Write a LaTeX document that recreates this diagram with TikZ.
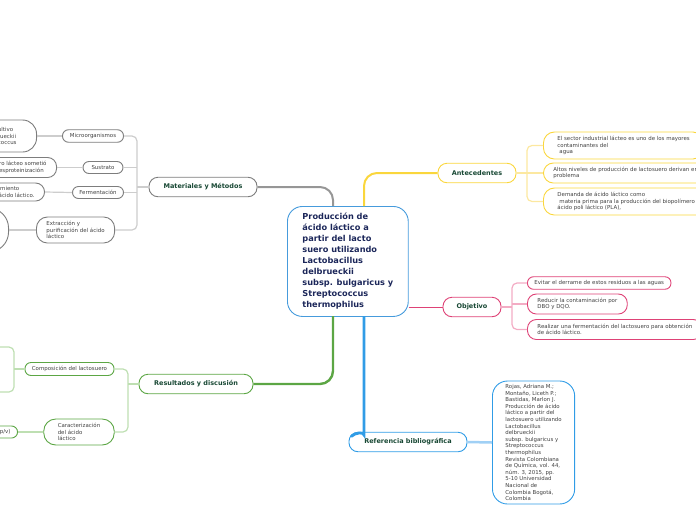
\documentclass[tikz,border=0pt]{standalone}
\usepackage{fontspec}
\setmainfont{DejaVu Sans}
\usetikzlibrary{positioning}
\definecolor{navy}{RGB}{27,38,89}
\definecolor{topicgreen}{RGB}{24,72,52}
\definecolor{leaftext}{RGB}{64,64,64}
\definecolor{centerblue}{RGB}{70,155,220}
\definecolor{matgray}{RGB}{125,125,125}
\definecolor{matline}{RGB}{205,205,205}
\definecolor{matmain}{RGB}{150,150,150}
\definecolor{anteyel}{RGB}{250,214,60}
\definecolor{anteline}{RGB}{252,232,160}
\definecolor{objpink}{RGB}{222,66,118}
\definecolor{objline}{RGB}{243,172,196}
\definecolor{resgreen}{RGB}{92,166,68}
\definecolor{resline}{RGB}{190,223,178}
\definecolor{refblue}{RGB}{48,156,230}
\definecolor{refline}{RGB}{160,208,245}

\begin{document}
\begin{tikzpicture}[x=1pt, y=-1pt,
    topic/.style={draw=#1, line width=0.9pt, rounded corners=9pt, minimum height=19.5pt, inner xsep=0pt, text=topicgreen, font=\bfseries\fontsize{6.5}{8}\selectfont},
    leaf/.style={draw=#1, line width=0.9pt, rounded corners=6pt, inner ysep=0pt, text=leaftext, align=left, font=\fontsize{5.45}{6.5}\selectfont},
    mainline/.style={draw=#1, line width=2pt, rounded corners=13pt},
    subline/.style={draw=#1, line width=1.2pt, rounded corners=5pt}]

    \useasboundingbox (0,0) rectangle (696,520);
    \clip (0,0) rectangle (696,520);

    % Central topic
    \node (prod) [draw=centerblue, line width=0.9pt, rounded corners=15pt, anchor=north west, minimum height=110pt, inner xsep=15pt, text=navy, align=left, font=\bfseries\fontsize{8.2}{11}\selectfont] at (287,206) {Producción de\\ácido láctico a\\partir del lacto\\suero utilizando\\Lactobacillus\\delbrueckii\\subsp. bulgaricus y\\Streptococcus\\thermophilus};
    \coordinate (pMat) at (333,206);
    \coordinate (pAnte) at (364,206);
    \coordinate (pRes) at (333,316);
    \coordinate (pRef) at (364,316);

    % Main topics
    \node (mat) [topic=matgray, minimum width=108pt] at (203,187) {Materiales y Métodos};
    \node (ante) [topic=anteyel, minimum width=78pt] at (477,173) {Antecedentes};
    \node (obj) [topic=objpink, minimum width=58pt] at (472,307) {Objetivo};
    \node (res) [topic=resgreen, minimum width=114pt] at (196,384) {Resultados y discusión};
    \node (ref) [topic=refblue, minimum width=118pt] at (408,442) {Referencia bibliográfica};
    \coordinate (refJoin) at (351,436.5);

    % Antecedentes
    \node (ante1) [leaf=anteyel, rounded corners=11pt, anchor=west, inner xsep=14pt, minimum height=27pt] at (543,145.5) {El sector industrial lácteo es uno de los mayores\\contaminantes del\\\hspace*{2pt}agua};
    \node (ante2) [leaf=anteyel, rounded corners=10pt, anchor=west, inner xsep=10pt, minimum height=20pt] at (543,173) {Altos niveles de producción de lactosuero derivan en\\problema};
    \node (ante3) [leaf=anteyel, rounded corners=11pt, anchor=west, inner xsep=14pt, minimum height=27pt] at (543,201.5) {Demanda de ácido láctico como\\\hspace*{2pt}materia prima para la producción del biopolímero\\ácido poli láctico (PLA),};
    \coordinate (anteSpine) at (527,173);

    % Objetivo
    \node (obj1) [leaf=objpink, anchor=west, inner xsep=7pt, minimum height=12.5pt] at (527,283) {Evitar el derrame de estos residuos a las aguas};
    \node (obj2) [leaf=objpink, rounded corners=9pt, anchor=west, inner xsep=10pt, minimum height=20pt] at (527,304) {Reducir la contaminación por\\DBO y DQO.};
    \node (obj3) [leaf=objpink, rounded corners=9pt, anchor=west, inner xsep=10pt, minimum height=20pt] at (527,329.5) {Realizar una fermentación del lactosuero para obtención\\de ácido láctico.};
    \coordinate (objSpine) at (512,307);

    % Materiales y Metodos
    \node (mat1) [leaf=matgray, minimum width=61pt, minimum height=12.5pt] at (93,136) {Microorganismos};
    \node (mat2) [leaf=matgray, minimum width=40pt, minimum height=12pt] at (103,167.5) {Sustrato};
    \node (mat3) [leaf=matgray, minimum width=51pt, minimum height=12pt] at (98,192.5) {Fermentación};
    \node (mat4) [leaf=matgray, rounded corners=11pt, anchor=west, inner xsep=10pt, minimum height=26pt] at (36,230) {Extracción y\\purificación del ácido\\láctico};
    \coordinate (matSpine) at (137,187);
    \node (mat1a) [leaf=matgray, rounded corners=14pt, anchor=east, inner xsep=20pt, minimum height=32pt] at (37,136) {ultivo\\rueckii\\coccus};
    \node (mat2a) [leaf=matgray, rounded corners=9pt, anchor=east, inner xsep=10pt, minimum height=20pt] at (57,167.5) {ro lácteo sometió\\esproteinización};
    \node (mat3a) [leaf=matgray, rounded corners=9pt, anchor=east, inner xsep=10pt, minimum height=18pt] at (45,192) {imiento\\ácido láctico.};
    \node (mat4a) [draw=matgray, line width=0.9pt, rounded corners=20pt, anchor=east, minimum width=60pt, minimum height=44pt] at (9,230) {};

    % Resultados y discusion
    \node (res1) [leaf=resgreen, minimum width=89pt, minimum height=13pt] at (69.5,369) {Composición del lactosuero};
    \node (res2) [leaf=resgreen, rounded corners=12pt, inner xsep=14pt, minimum height=26pt] at (79,432) {Caracterización\\del ácido\\láctico};
    \node (res2a) [leaf=resgreen, anchor=east, inner xsep=7pt, minimum height=12pt] at (18,432) {p/v)};
    \coordinate (resSpine) at (128,384);
    \coordinate (res1Spine) at (14,369);
    \coordinate (res1Top) at (-10,347);
    \coordinate (res1Bot) at (-10,392);

    % Referencia
    \node (ref1) [leaf=refblue, rounded corners=15pt, anchor=west, inner xsep=13pt, minimum height=123pt, font=\fontsize{5.4}{6.6}\selectfont] at (492,442.5) {Rojas, Adriana M.;\\Montaño, Liceth P.;\\Bastidas, Marlon J.\\Producción de ácido\\láctico a partir del\\lactosuero utilizando\\Lactobacillus\\delbrueckii\\subsp. bulgaricus y\\Streptococcus\\thermophilus\\Revista Colombiana\\de Química, vol. 44,\\núm. 3, 2015, pp.\\5-10 Universidad\\Nacional de\\Colombia Bogotá,\\Colombia};

    % Main branches
    \draw[mainline=matmain] (mat.east) -| (pMat);
    \draw[mainline=anteyel] (pAnte) |- (ante.west);
    \draw[mainline=objpink, line width=0.8pt] (prod.east |- obj.west) -- (obj.west);
    \draw[mainline=resgreen, line width=2.4pt] (pRes) |- (res.east);
    \draw[mainline=refblue, line width=2.8pt] (pRef) -- (364,422) .. controls (364,432) and (356,432) .. (refJoin);

    % Sub branches
    \draw[subline=anteline] (ante.east) -- (ante2.west);
    \draw[subline=anteline] (ante1.west) -| (anteSpine) |- (ante3.west);
    \draw[subline=objline] (obj.east) -- (objSpine);
    \draw[subline=objline] (obj1.west) -| (objSpine) |- (obj3.west);
    \draw[subline=objline] (objSpine |- obj2.west) -- (obj2.west);
    \draw[subline=matline] (mat.west) -- (matSpine);
    \draw[subline=matline] (mat1.east) -| (matSpine) |- (mat4.east);
    \draw[subline=matline] (matSpine |- mat2.east) -- (mat2.east);
    \draw[subline=matline] (matSpine |- mat3.east) -- (mat3.east);
    \draw[subline=matline] (mat1a.east) -- (mat1.west);
    \draw[subline=matline] (mat2a.east) -- (mat2.west);
    \draw[subline=matline] (mat3a.east) -- (mat3.west);
    \draw[subline=matline] (mat4a.east) -- (mat4.west);
    \draw[subline=resline] (res.west) -- (resSpine);
    \draw[subline=resline] (res1.east) -| (resSpine) |- (res2.east);
    \draw[subline=resline] (res1.west) -- (res1Spine);
    \draw[subline=resline] (res1Top) -| (res1Spine) |- (res1Bot);
    \draw[subline=resline] (res2a.east) -- (res2.west);
    \draw[mainline=refline, line width=2.5pt] (ref.east) -- (ref1.west);

\end{tikzpicture}
\end{document}
